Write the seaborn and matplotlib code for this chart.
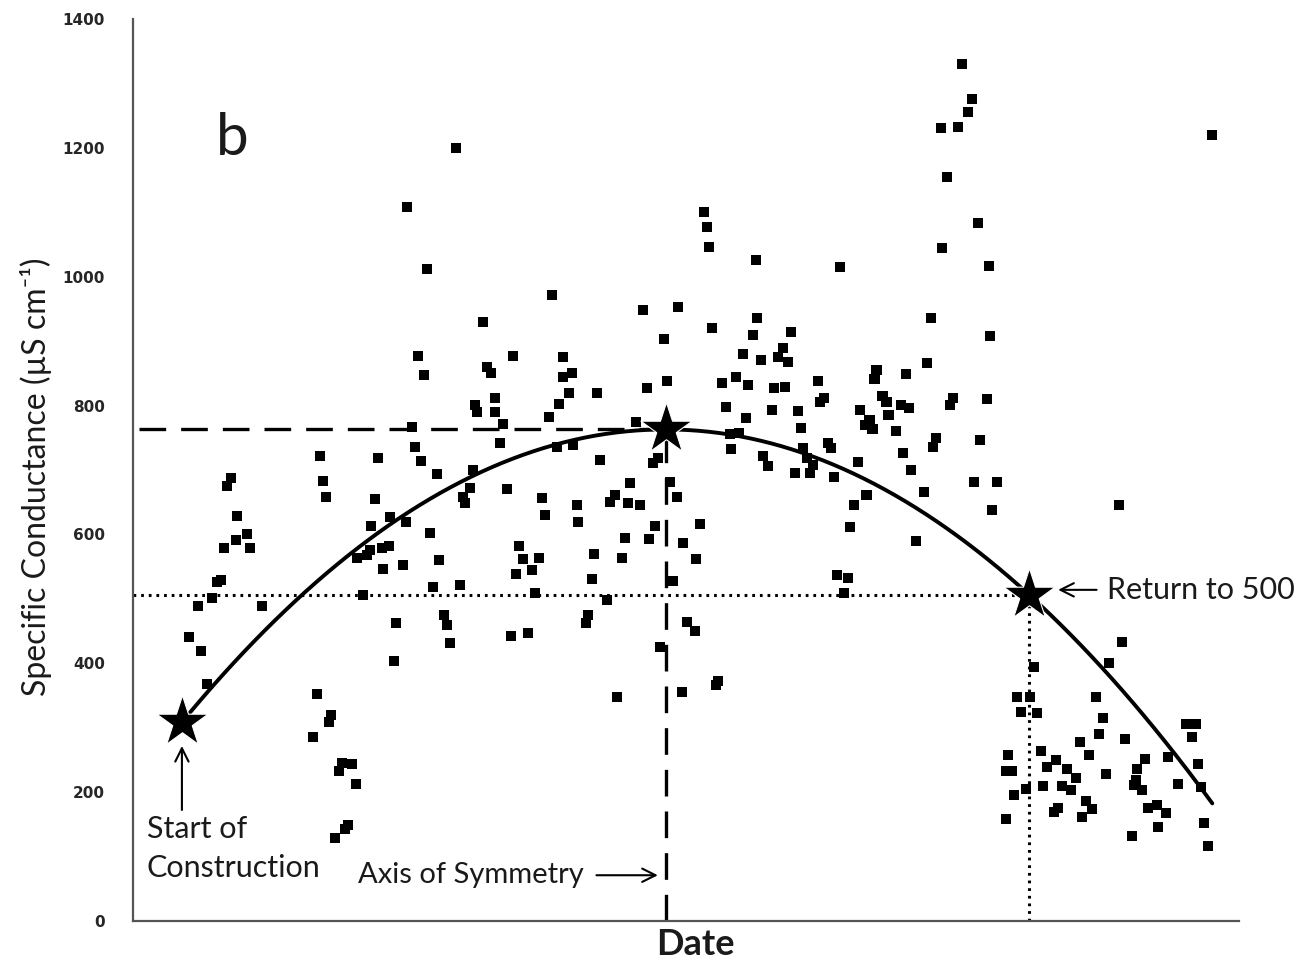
import numpy as np
import pandas as pd
import matplotlib
matplotlib.use("Agg")
import matplotlib.pyplot as plt
import seaborn as sns

# Observation day (days after axis origin) and specific conductance (uS/cm)
days = [
    56, 68, 74, 65, 79, 84, 88, 91, 103, 114, 117, 104, 94, 98, 129,
    187, 190, 193, 184, 198, 196, 180, 209, 219, 206, 223, 215, 212, 202,
    323, 274, 294, 350, 285, 291, 354, 358, 342, 344, 362, 362, 279, 282,
    245, 288, 242, 304, 340, 337, 330, 332, 238, 257, 273, 297, 224, 234,
    237, 249, 256, 250, 270, 306, 230, 300, 327, 263, 311, 314, 317, 261,
    419, 510, 545, 531, 380, 430, 430, 439, 436, 464, 514, 534, 426, 416,
    370, 503, 367, 424, 440, 467, 520, 525, 374, 409, 444, 482, 477, 497,
    495, 507, 537, 544, 412, 445, 522, 386, 492, 516, 550, 390, 406, 399,
    383, 461, 489, 459, 540, 402, 474, 455, 453, 554, 378, 395, 527, 484,
    549,
    571, 574, 576, 623, 707, 624, 579, 620, 658, 610, 628, 650, 645, 655,
    589, 603, 615, 641, 652, 685, 744, 742, 691, 687, 593, 639, 665, 727,
    613, 668, 737, 733, 740, 597, 606, 598, 630, 635, 670, 674, 680, 695,
    698, 725, 662, 677, 701, 734, 721, 567, 563, 717, 704, 715, 711, 562,
    585, 583,
    830, 840, 836, 809, 826, 815, 846, 810, 857, 799, 858, 795, 774, 750,
    754, 769, 777, 821, 818, 855, 756, 764, 804, 801, 848, 771, 779, 842,
    865, 792, 860, 784,
    990, 977, 902, 885, 898, 964, 889, 905, 971, 967, 993, 1054, 1064,
    1060, 948, 909, 957, 876, 1013, 1036, 1066, 924, 915, 935, 944, 874,
    880, 974, 1005, 1004, 911, 894, 930, 939, 1002, 1010, 1046, 1069, 882,
    954, 960, 926, 922, 950, 1016, 1025, 1034, 1026, 874, 1000, 1072, 1076,
    1080, 987,
]
conductance = [
    441, 419, 368, 489, 501, 526, 529, 579, 591, 601, 579, 629, 675, 688, 489,
    722, 683, 658, 352, 320, 309, 286, 245, 244, 233, 213, 149, 143, 129,
    1200, 1108, 1012, 930, 877, 847, 860, 851, 801, 790, 812, 790, 767, 736,
    719, 714, 655, 694, 700, 672, 658, 649, 613, 627, 619, 602, 563, 568,
    576, 579, 582, 546, 553, 560, 506, 518, 522, 463, 475, 459, 431, 404,
    972, 948, 953, 903, 877, 875, 844, 851, 820, 820, 827, 838, 802, 782,
    771, 774, 742, 736, 739, 716, 711, 719, 671, 657, 646, 661, 650, 680,
    649, 646, 681, 658, 630, 619, 613, 582, 594, 593, 587, 562, 563, 545,
    539, 570, 563, 531, 528, 509, 498, 475, 463, 464, 442, 447, 425, 348,
    355,
    1100, 1077, 1046, 1026, 1015, 936, 920, 910, 914, 880, 871, 889, 875, 868,
    835, 844, 832, 827, 829, 838, 855, 841, 812, 806, 798, 793, 792, 793,
    781, 765, 778, 770, 764, 756, 757, 733, 722, 706, 734, 719, 708, 742,
    734, 712, 695, 695, 689, 661, 646, 616, 562, 612, 537, 532, 509, 450,
    372, 366,
    1330, 1276, 1256, 1231, 1232, 1155, 1083, 1045, 1017, 936, 908, 866, 849, 815,
    806, 801, 796, 812, 801, 810, 785, 760, 750, 736, 747, 726, 700, 681,
    681, 666, 638, 590,
    433, 400, 394, 348, 348, 348, 324, 323, 315, 290, 282, 306, 306,
    286, 278, 264, 258, 258, 251, 255, 244, 250, 239, 236, 222, 233,
    233, 228, 236, 219, 210, 205, 210, 203, 211, 203, 213, 208, 196,
    186, 174, 175, 169, 161, 175, 180, 168, 146, 158, 132, 152, 116,
    1220, 646,
]

# Quadratic trend of conductance through time
peak_day = 533
peak_sc = 763
curvature = 0.00194
curve_start_day = 49
curve_end_day = 1080
return_day = 897

def trend(d):
    d = np.asarray(d, dtype=float)
    return peak_sc - curvature * (d - peak_day) ** 2

key_days = [curve_start_day, peak_day, return_day]

obs = pd.DataFrame({"day": days, "sc": conductance})
curve_days = np.linspace(curve_start_day, curve_end_day, 300)
curve = pd.DataFrame({"day": curve_days, "sc": trend(curve_days)})
stars = pd.DataFrame({"day": key_days, "sc": trend(key_days)})
return_sc = float(trend(return_day))

sns.set_style("white")
plt.rcParams["font.family"] = ["Lato", "DejaVu Sans"]

fig = plt.figure(figsize=(12.97, 9.66), dpi=100)
ax = fig.add_axes([0.1025, 0.0466, 0.853, 0.9337])

x_min, x_max = 0, 1107
ax.set_xlim(x_min, x_max)
ax.set_ylim(0, 1400)

# reference lines
ax.plot([x_min + 6, peak_day], [peak_sc, peak_sc], color="black", lw=2.4,
        dashes=(8, 4.5), zorder=2)
ax.plot([peak_day, peak_day], [0, peak_sc], color="black", lw=2.4,
        dashes=(8, 4.5), zorder=2)
ax.plot([x_min, return_day], [return_sc, return_sc], color="black", lw=2.2,
        dashes=(0.9, 1.6), zorder=2)
ax.plot([return_day, return_day], [0, return_sc], color="black", lw=2.2,
        dashes=(0.9, 1.6), zorder=2)

sns.scatterplot(data=obs, x="day", y="sc", marker="s", s=52, color="black",
                edgecolor="none", ax=ax, zorder=3)
sns.lineplot(data=curve, x="day", y="sc", color="black", lw=2.8, ax=ax,
             zorder=4)
sns.scatterplot(data=stars, x="day", y="sc", marker="*", s=1500,
                color="black", edgecolor="white", linewidth=0.8, ax=ax,
                zorder=5)

# axes styling
for side in ["top", "right"]:
    ax.spines[side].set_visible(False)
for side in ["left", "bottom"]:
    ax.spines[side].set_color("#555555")
    ax.spines[side].set_linewidth(1.6)

ax.set_xticks([])
ax.set_yticks(np.arange(0, 1401, 200))
ax.set_yticklabels([str(v) for v in range(0, 1401, 200)],
                   fontfamily="DejaVu Sans", fontweight="bold", fontsize=11)
ax.tick_params(axis="y", direction="out", length=8, width=1.4,
               color="#555555", pad=12)

ax.set_xlabel("Date", fontsize=26, fontweight="bold", color="#1a1a1a")
ax.xaxis.set_label_coords(0.508, -0.008, transform=ax.transAxes)
ax.xaxis.label.set_va("top")
ax.set_ylabel("Specific Conductance (\u00b5S cm\u207b\u00b9)", fontsize=23,
              color="#1a1a1a")
ax.yaxis.set_label_coords(-0.073, 0.492, transform=ax.transAxes)

ax.text(99, 1215, "b", fontsize=42, ha="center", va="center",
        color="#1a1a1a")

arrow = dict(arrowstyle="->", color="black", lw=1.5, mutation_scale=24)
ax.annotate("", xy=(curve_start_day, 276), xytext=(curve_start_day, 168),
            arrowprops=arrow)
ax.text(14, 164, "Start of\nConstruction", fontsize=22, ha="left", va="top",
        linespacing=1.45, color="#1a1a1a")

ax.annotate("", xy=(peak_day - 5, 71), xytext=(peak_day - 72, 71),
            arrowprops=arrow)
ax.text(225, 71, "Axis of Symmetry", fontsize=21, ha="left", va="center",
        color="#1a1a1a")

ax.annotate("", xy=(return_day + 26, 514), xytext=(return_day + 70, 514),
            arrowprops=arrow)
ax.text(975, 514, "Return to 500", fontsize=22, ha="left", va="center",
        clip_on=False, color="#1a1a1a")

fig.savefig("out.png", dpi=100)
